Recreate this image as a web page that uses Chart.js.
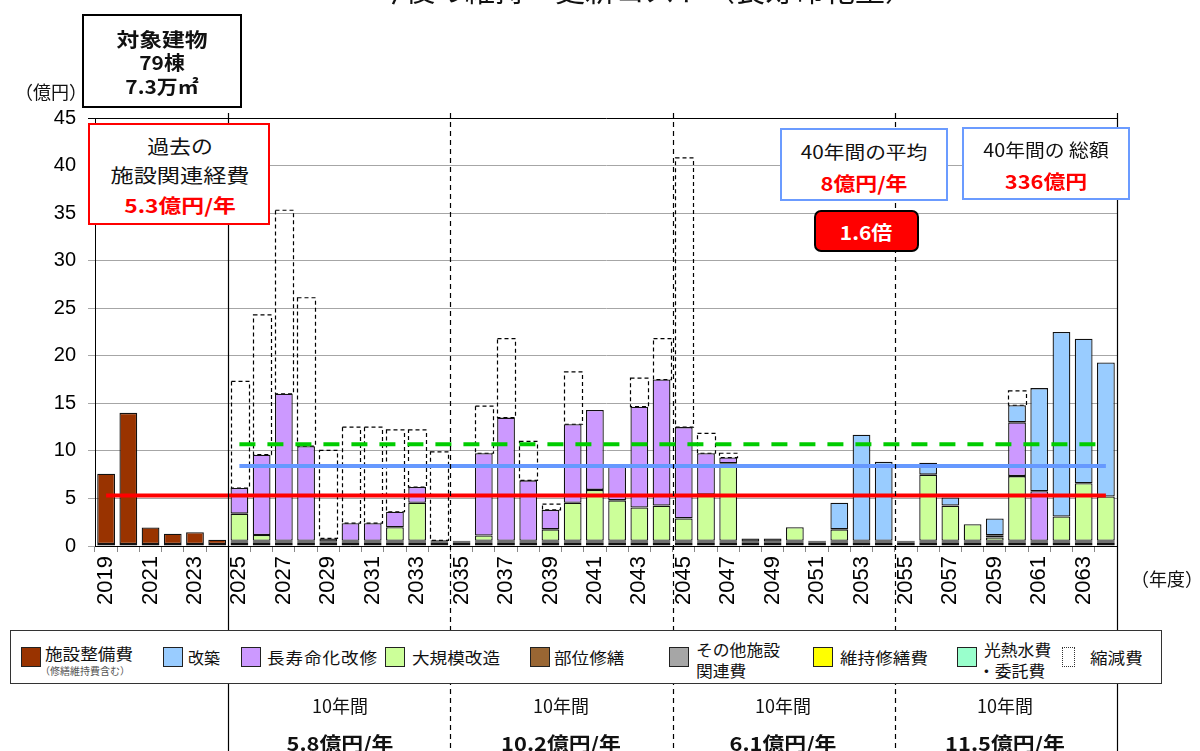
<!doctype html>
<html lang="ja">
<head>
  <meta charset="utf-8">
  <title>今後の維持・更新コスト（長寿命化型）</title>
  <script src="https://cdn.jsdelivr.net/npm/chart.js"></script>
  <style>
    body { margin: 0; background: #fff; }
    #wrap { position: relative; width: 1200px; height: 751px; overflow: hidden;
            font-family: "Noto Sans CJK JP", sans-serif; }
    canvas { position: absolute; left: 0; top: 0; }
    .box { position: absolute; box-sizing: border-box; background: #fff; }
    .t { position: absolute; white-space: nowrap; line-height: 1; }
    .sq { position: absolute; width: 20px; height: 20px; box-sizing: border-box; border: 1.5px solid #222; }
  </style>
</head>
<body>
  <div id="wrap">
    <canvas id="chart" width="1200" height="751"></canvas>
  </div>

  <script>
    // 年度
    const years = [2019, 2020, 2021, 2022, 2023, 2024, 2025, 2026, 2027, 2028,
      2029, 2030, 2031, 2032, 2033, 2034, 2035, 2036, 2037, 2038,
      2039, 2040, 2041, 2042, 2043, 2044, 2045, 2046, 2047, 2048,
      2049, 2050, 2051, 2052, 2053, 2054, 2055, 2056, 2057, 2058,
      2059, 2060, 2061, 2062, 2063, 2064];

    // 億円 (読み取り値)
    const utility = [0.2, 0.2, 0.2, 0.2, 0.2, 0.2, 0.2, 0.2, 0.2, 0.2,
      0.2, 0.2, 0.2, 0.2, 0.2, 0.2, 0.2, 0.2, 0.2, 0.2,
      0.2, 0.2, 0.2, 0.2, 0.2, 0.2, 0.2, 0.2, 0.2, 0.2,
      0.2, 0.2, 0.2, 0.2, 0.2, 0.2, 0.2, 0.2, 0.2, 0.2,
      0.2, 0.2, 0.2, 0.2, 0.2, 0.2];
    const upkeep = [null, null, null, null, null, null, 0.15, 0.15, 0.15, 0.15,
      0.15, 0.15, 0.15, 0.15, 0.15, 0.15, 0.15, 0.15, 0.15, 0.15,
      0.15, 0.15, 0.15, 0.15, 0.15, 0.15, 0.15, 0.15, 0.15, 0.15,
      0.15, 0.15, 0.15, 0.15, 0.15, 0.15, 0.15, 0.15, 0.15, 0.15,
      0.15, 0.15, 0.15, 0.15, 0.15, 0.15];
    const otherCost = [null, null, null, null, null, null, 0.1, 0.1, 0.1, 0.1,
      0.1, 0.1, 0.1, 0.1, 0.1, 0.1, 0.1, 0.1, 0.1, 0.1,
      0.1, 0.1, 0.1, 0.1, 0.1, 0.1, 0.1, 0.1, 0.1, 0.1,
      0.1, 0.1, 0.1, 0.1, 0.1, 0.1, 0.1, 0.1, 0.1, 0.1,
      0.1, 0.1, 0.1, 0.1, 0.1, 0.1];
    const partRepair = [null, null, null, null, null, null, 0.1, 0.1, 0.1, 0.1,
      0.35, 0.1, 0.1, 0.1, 0.1, 0.15, 0.1, 0.1, 0.1, 0.1,
      0.1, 0.1, 0.1, 0.1, 0.1, 0.1, 0.1, 0.1, 0.1, 0.35,
      0.35, 0.1, 0.1, 0.1, 0.1, 0.1, 0.1, 0.1, 0.1, 0.1,
      0.1, 0.1, 0.1, 0.1, 0.1, 0.1];
    const majorRenov = [null, null, null, null, null, null, 2.85, 0.6, null, null,
      null, null, null, 1.42, 4.0, null, null, 0.55, null, null,
      1.2, 4.0, 5.35, 4.25, 3.5, 3.7, 2.35, 4.85, 8.15, null,
      null, 1.42, null, 1.2, null, null, null, 6.95, 3.7, 1.73,
      0.35, 6.8, null, 2.55, 6.05, 4.65];
    const longLife = [null, null, null, null, null, null, 2.7, 8.45, 15.45, 9.95,
      null, 1.85, 1.85, 1.63, 1.65, null, null, 8.65, 12.95, 6.35,
      2.05, 8.25, 8.4, 3.6, 10.6, 13.25, 9.6, 4.35, 0.6, null,
      null, null, null, null, null, null, null, null, null, null,
      0.22, 5.65, 5.2, null, null, null];
    const rebuild = [null, null, null, null, null, null, null, null, null, null,
      null, null, null, null, null, null, null, null, null, null,
      null, null, null, null, null, null, null, null, null, null,
      null, null, null, 2.8, 11.15, 8.3, null, 1.25, 0.85, null,
      1.78, 1.8, 10.85, 19.4, 15.2, 14.1];
    const facility = [7.4, 13.8, 1.75, 1.1, 1.25, 0.45, null, null, null, null,
      null, null, null, null, null, null, null, null, null, null,
      null, null, null, null, null, null, null, null, null, null,
      null, null, null, null, null, null, null, null, null, null,
      null, null, null, null, null, null];
    const reduced = [null, null, null, null, null, null, 11.2, 14.7, 19.3, 15.6,
      9.25, 10.1, 10.1, 8.6, 6.0, 9.3, null, 4.95, 8.3, 4.1,
      0.6, 5.5, null, null, 3.0, 4.3, 28.3, 2.1, 0.45, null,
      null, null, null, null, null, null, null, null, null, null,
      null, 1.5, null, null, null, null];

    // 平均線
    const pastAverage = 5.3;     // 過去の施設関連経費
    const planAverage = 8.4;     // 40年間の平均
    const beforeAverage = 10.7;  // 縮減前の平均
    const planStart = 2025;

    const yTicks = [0, 5, 10, 15, 20, 25, 30, 35, 40, 45];
    // 区切り線 (この年度の左側)
    const solidSplits = [2025];
    const dashedSplits = [2035, 2045, 2055];

    const pastLine = years.map(() => pastAverage);
    const planLine = years.map(y => y >= planStart ? planAverage : null);
    const beforeLine = years.map(y => y >= planStart ? beforeAverage : null);

    function bar(label, data, color) {
      return {
        type: 'bar', label, data, backgroundColor: color,
        borderColor: '#111', borderWidth: 1.3, borderSkipped: false,
        stack: 'cost', order: 1, barPercentage: 0.8, categoryPercentage: 1.0
      };
    }
    function avgLine(label, data, color, dash) {
      return {
        type: 'line', label, data, borderColor: color, borderWidth: 4,
        borderDash: dash, pointRadius: 0, fill: false, stack: label, order: 0
      };
    }

    // 細い帯は枠線と重なって黒く見えるので塗りも黒にする
    const thinFill = '#111';

    const datasets = [
      bar('光熱水費・委託費', utility, '#99ffcc'),
      bar('維持修繕費', upkeep, thinFill),
      bar('その他施設関連費', otherCost, thinFill),
      bar('部位修繕', partRepair, thinFill),
      bar('大規模改造', majorRenov, '#ccff99'),
      bar('長寿命化改修', longLife, '#cc99ff'),
      bar('改築', rebuild, '#99ccff'),
      bar('施設整備費', facility, '#993300'),
      Object.assign(bar('縮減費', reduced, 'rgba(0,0,0,0)'), { borderWidth: 0 }),
      avgLine('縮減前平均', beforeLine, '#00cc00', [16, 12]),
      avgLine('40年間の平均', planLine, '#6699ff', []),
      avgLine('過去の平均', pastLine, '#ff0000', [])
    ];
    const reducedIndex = 8;

    // 縮減費は破線の枠で描く
    const dashedBars = {
      id: 'dashedBars',
      afterDatasetDraw(chart, args) {
        if (args.index !== reducedIndex) return;
        const ctx = chart.ctx;
        ctx.save();
        ctx.strokeStyle = '#000';
        ctx.lineWidth = 1.2;
        ctx.setLineDash([4, 3]);
        args.meta.data.forEach((el, i) => {
          if (reduced[i] == null) return;
          const p = el.getProps(['x', 'y', 'base', 'width'], true);
          ctx.strokeRect(Math.round(p.x - p.width / 2) + 0.5, p.y, Math.round(p.width), p.base - p.y);
        });
        ctx.restore();
      }
    };

    // 10年ごとの区切り線とタイトル
    const splitLines = {
      id: 'splitLines',
      afterDraw(chart) {
        const ctx = chart.ctx;
        const xs = chart.scales.x;
        const area = chart.chartArea;
        const between = y => {
          const i = years.indexOf(y);
          return (xs.getPixelForValue(i - 1) + xs.getPixelForValue(i)) / 2;
        };
        ctx.save();
        ctx.strokeStyle = '#000';
        ctx.lineWidth = 1.2;
        solidSplits.forEach(y => {
          const x = Math.round(between(y)) + 0.5;
          ctx.beginPath(); ctx.moveTo(x, area.top - 5); ctx.lineTo(x, chart.height); ctx.stroke();
        });
        const xr = Math.round(area.right) + 0.5;
        ctx.beginPath(); ctx.moveTo(xr, area.top - 5); ctx.lineTo(xr, chart.height); ctx.stroke();
        ctx.setLineDash([5, 4]);
        dashedSplits.forEach(y => {
          const x = Math.round(between(y)) + 0.5;
          ctx.beginPath(); ctx.moveTo(x, area.top - 5); ctx.lineTo(x, chart.height); ctx.stroke();
        });
        ctx.restore();

        ctx.save();
        ctx.fillStyle = '#111';
        ctx.font = '30px "Noto Sans CJK JP"';
        ctx.textAlign = 'center';
        ctx.textBaseline = 'ideographic';
        ctx.fillText('今後の維持・更新コスト（長寿命化型）', 645, 5);
        ctx.restore();
      }
    };

    new Chart(document.getElementById('chart'), {
      data: { labels: years, datasets },
      options: {
        responsive: false,
        animation: false,
        layout: { padding: { left: 0, right: 83, top: 118, bottom: 0 } },
        plugins: { legend: { display: false }, tooltip: { enabled: false } },
        scales: {
          x: {
            stacked: true,
            grid: { drawOnChartArea: false, tickLength: 6, color: '#888', offset: true },
            border: { color: '#000', width: 1 },
            ticks: {
              autoSkip: false, minRotation: 90, maxRotation: 90, padding: 4, color: '#000',
              font: { family: 'Liberation Sans', size: 22 },
              callback: (v, i) => i % 2 === 0 ? String(years[i]) : ''
            },
            afterFit: s => { s.height = 205; }
          },
          y: {
            stacked: true, min: 0, max: 45,
            afterBuildTicks: s => { s.ticks = yTicks.map(v => ({ value: v })); },
            ticks: { padding: 12, color: '#000', font: { family: 'Liberation Sans', size: 20 } },
            grid: {
              tickLength: 7,
              color: c => (c.tick && c.tick.value === 45) ? '#000' : '#a6a6a6'
            },
            border: { color: '#000', width: 1 },
            afterFit: s => { s.width = 95; }
          }
        }
      },
      plugins: [dashedBars, splitLines]
    });

    // 注記・凡例 (HTML)
    const wrap = document.getElementById('wrap');

    function addBox(x, y, w, h, border, bg, radius) {
      const d = document.createElement('div');
      d.className = 'box';
      Object.assign(d.style, {
        left: x + 'px', top: y + 'px', width: w + 'px', height: h + 'px',
        border: border, background: bg || '#fff', borderRadius: (radius || 0) + 'px'
      });
      wrap.appendChild(d);
    }

    function addText(str, x, y, size, opt) {
      opt = opt || {};
      const d = document.createElement('div');
      d.className = 't';
      d.textContent = str;
      const left = opt.align === 'left';
      Object.assign(d.style, {
        left: x + 'px', top: y + 'px', fontSize: size + 'px',
        fontWeight: opt.bold ? '700' : '400', color: opt.color || '#111',
        letterSpacing: (opt.ls || 0) + 'px',
        transformOrigin: left ? 'left center' : 'center center',
        transform: 'translate(' + (left ? '0' : '-50%') + ', -50%) scaleX(' + (opt.sx || 1) + ')'
      });
      wrap.appendChild(d);
    }

    function addSwatch(x, y, color, dashed) {
      const d = document.createElement('div');
      d.className = 'sq';
      d.style.left = x + 'px';
      d.style.top = y + 'px';
      d.style.background = color;
      if (dashed) { d.style.border = '1.2px dotted #333'; d.style.width = '13px'; }
      wrap.appendChild(d);
    }

    // 上部の注記
    addText('（億円）', 51, 91, 18);
    addBox(82, 14, 160, 94, '2px solid #000');
    addText('対象建物', 162, 38, 19, { bold: true, sx: 1.2 });
    addText('79棟', 162, 61, 19, { bold: true, sx: 1.1 });
    addText('7.3万㎡', 162, 85, 19, { bold: true, sx: 1.1 });

    addBox(88, 123, 182, 102, '2.5px solid #ff0000');
    addText('過去の', 180, 145, 19, { sx: 1.15 });
    addText('施設関連経費', 180, 174, 19, { sx: 1.22 });
    addText('5.3億円/年', 180, 204, 19, { bold: true, color: '#ff0000', sx: 1.2 });

    addBox(780, 128, 168, 73, '2.5px solid #6b9bff');
    addText('40年間の平均', 864, 151, 18, { sx: 1.15 });
    addText('8億円/年', 864, 182, 19, { bold: true, color: '#ff0000', sx: 1.15 });

    addBox(962, 127, 168, 73, '2.5px solid #6b9bff');
    addText('40年間の 総額', 1046, 149, 18, { sx: 1.1 });
    addText('336億円', 1046, 180, 19, { bold: true, color: '#ff0000', sx: 1.15 });

    addBox(814, 210, 105, 42, '2.5px solid #000', '#ff0000', 7);
    addText('1.6倍', 866, 231, 19, { bold: true, color: '#fff', sx: 1.1 });

    addText('（年度）', 1167, 578, 18);

    // 凡例
    addBox(10, 630, 1152, 54, '1.5px solid #333');
    addSwatch(21, 647, '#993300');
    addText('施設整備費', 45, 653, 16, { align: 'left', sx: 1.1 });
    addText('（修繕維持費含む）', 40, 671, 10, { align: 'left', color: '#555' });
    addSwatch(163, 647, '#99ccff');
    addText('改築', 188, 657, 16, { align: 'left', sx: 1.0 });
    addSwatch(241, 647, '#cc99ff');
    addText('長寿命化改修', 267, 657, 16, { align: 'left', sx: 1.1, ls: 0.8 });
    addSwatch(385, 647, '#ccff99');
    addText('大規模改造', 412, 657, 16, { align: 'left', sx: 1.1 });
    addSwatch(530, 647, '#996633');
    addText('部位修繕', 554, 657, 16, { align: 'left', sx: 1.1 });
    addSwatch(669, 647, '#a6a6a6');
    addText('その他施設', 696, 649, 16, { align: 'left', sx: 1.05 });
    addText('関連費', 696, 670, 16, { align: 'left', sx: 1.05 });
    addSwatch(813, 647, '#ffff00');
    addText('維持修繕費', 840, 657, 16, { align: 'left', sx: 1.1 });
    addSwatch(957, 647, '#99ffcc');
    addText('光熱水費', 984, 649, 16, { align: 'left', sx: 1.05 });
    addText('・委託費', 978, 670, 16, { align: 'left', sx: 1.05 });
    addSwatch(1062, 647, 'transparent', true);
    addText('縮減費', 1090, 657, 16, { align: 'left', sx: 1.1 });

    // 10年ごとの平均
    const decadeCenters = [340, 561, 783, 1005];
    const decadeTexts = ['5.8億円/年', '10.2億円/年', '6.1億円/年', '11.5億円/年'];
    decadeCenters.forEach((cx, i) => {
      addText('10年間', cx, 705, 18);
      addText(decadeTexts[i], cx, 742, 19, { bold: true, sx: 1.15 });
    });
  </script>
</body>
</html>
